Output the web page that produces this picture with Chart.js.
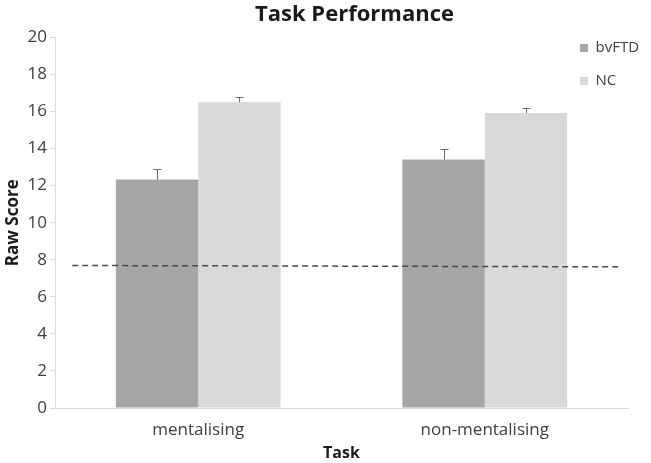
<!DOCTYPE html>
<html>
<head>
<meta charset="utf-8">
<script src="https://cdn.jsdelivr.net/npm/chart.js@4/dist/chart.umd.min.js"></script>
<style>
  html, body { margin: 0; padding: 0; background: #ffffff; }
  #wrap { width: 651px; height: 463px; position: relative; }
</style>
</head>
<body>
<div id="wrap"><canvas id="c" width="651" height="463"></canvas></div>
<script>
// ---- data ----
const categories = ['mentalising', 'non-mentalising'];
const seriesNames = ['bvFTD', 'NC'];
const bvFTD = [12.33, 13.41];
const NC = [16.5, 15.92];
const bvFTDErr = [0.55, 0.55];
const NCErr = [0.27, 0.29];
const yTicks = [0, 2, 4, 6, 8, 10, 12, 14, 16, 18, 20];
// cut-off dashed line (x in category units, y in raw score)
const cutoffX = [-0.44, 1.48];
const cutoffY = [7.69, 7.62];

const FONT = "'Open Sans', 'DejaVu Sans', sans-serif";

const errorBars = {
  id: 'errorBars',
  afterDatasetsDraw(chart) {
    const ctx = chart.ctx;
    const y = chart.scales.y;
    const xs = chart.scales.x;
    const errs = [bvFTDErr, NCErr];
    ctx.save();
    // dashed cut-off line, positioned through the chart's own scales
    ctx.strokeStyle = '#4a4a4a';
    ctx.lineWidth = 1.5;
    ctx.setLineDash([6, 4]);
    ctx.beginPath();
    ctx.moveTo(xs.getPixelForValue(cutoffX[0]), y.getPixelForValue(cutoffY[0]));
    ctx.lineTo(xs.getPixelForValue(cutoffX[1]), y.getPixelForValue(cutoffY[1]));
    ctx.stroke();
    ctx.setLineDash([]);
    // error bars (upper only)
    ctx.strokeStyle = '#6a6a6a';
    ctx.lineWidth = 1;
    [0, 1].forEach(di => {
      const meta = chart.getDatasetMeta(di);
      meta.data.forEach((bar, i) => {
        const v = chart.data.datasets[di].data[i];
        const top = Math.round(y.getPixelForValue(v + errs[di][i])) + 0.5;
        const base = y.getPixelForValue(v);
        const x = Math.round(bar.x) + 0.5;
        ctx.beginPath();
        ctx.moveTo(x, base);
        ctx.lineTo(x, top);
        ctx.moveTo(x - 4, top);
        ctx.lineTo(x + 4, top);
        ctx.stroke();
      });
    });
    ctx.restore();
  }
};

const placer = {
  id: 'placer',
  afterLayout(chart) {
    const ca = chart.chartArea;
    const lg = chart.legend;
    if (lg) {
      const w = lg.right - lg.left;
      lg.left = ca.right - 66;
      lg.right = lg.left + w;
      lg.top = ca.top - 15;
    }
    const tb = chart.titleBlock;
    if (tb) {
      const center = (ca.left + ca.right) / 2 + 13;
      const half = (tb.right - tb.left) / 2;
      tb.left = center - half;
      tb.right = center + half;
    }
  }
};

new Chart(document.getElementById('c'), {
  type: 'bar',
  data: {
    labels: categories,
    datasets: [
      { label: seriesNames[0], data: bvFTD, backgroundColor: '#a6a6a6',
        barPercentage: 1.0, categoryPercentage: 0.575 },
      { label: seriesNames[1], data: NC, backgroundColor: '#d9d9d9',
        barPercentage: 1.0, categoryPercentage: 0.575 }
    ]
  },
  options: {
    responsive: false,
    animation: false,
    layout: { padding: { left: 0, right: 23, top: 0, bottom: 0 } },
    plugins: {
      title: {
        display: true, text: 'Task Performance', color: '#1a1a1a',
        font: { family: FONT, size: 22, weight: 'bold' },
        padding: { top: 2, bottom: 9 }, fullSize: false
      },
      legend: {
        position: 'chartArea', align: 'start',
        labels: {
          boxWidth: 8, boxHeight: 8, padding: 18, color: '#404040',
          font: { family: FONT, size: 15 }
        }
      },
      tooltip: { enabled: false }
    },
    scales: {
      x: {
        grid: { display: false },
        border: { display: true, color: '#d9d9d9', width: 1 },
        ticks: { color: '#404040', font: { family: FONT, size: 17 }, padding: 4 },
        title: { display: true, text: 'Task', color: '#1a1a1a',
                 font: { family: FONT, size: 16, weight: 'bold' }, padding: { top: 0, bottom: 0 } },
        afterFit: s => { s.height = 55; }
      },
      y: {
        min: 0, max: 20,
        afterBuildTicks: s => { s.ticks = yTicks.map(v => ({ value: v })); },
        grid: { display: true, drawOnChartArea: false, drawTicks: true, tickLength: 5, color: '#d9d9d9' },
        border: { display: true, color: '#d9d9d9', width: 1 },
        ticks: { color: '#404040', font: { family: FONT, size: 17 }, padding: 3 },
        title: { display: true, text: 'Raw Score', color: '#1a1a1a',
                 font: { family: FONT, size: 17, weight: 'bold' }, padding: { top: 3, bottom: 0 } },
        afterFit: s => { s.width = 55; }
      }
    }
  },
  plugins: [errorBars, placer]
});
</script>
</body>
</html>
